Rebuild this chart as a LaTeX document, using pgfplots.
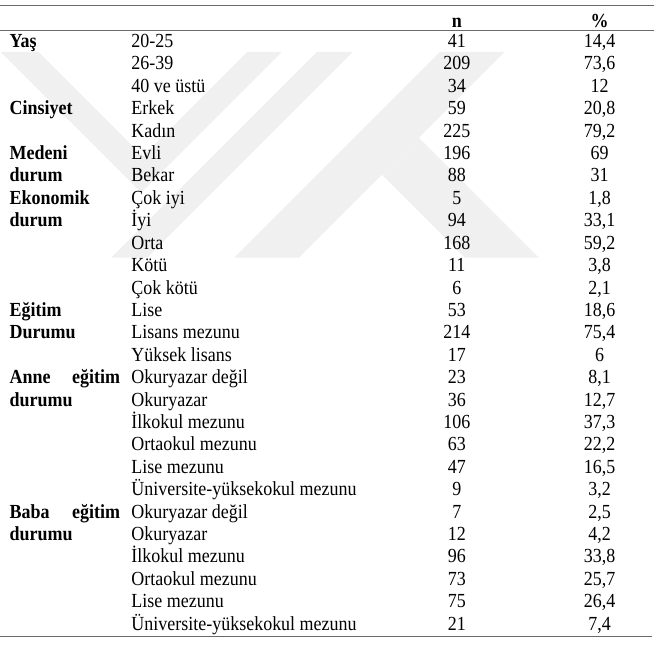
\documentclass[border=0pt]{standalone}
\usepackage{fontspec}
\setmainfont{Liberation Serif}[FakeStretch=0.9]
\usepackage{pgfplots}
\usepackage{pgfplotstable}
\pgfplotsset{compat=1.18}
\definecolor{wmgrey}{HTML}{F0F0F0}
\definecolor{rulegrey}{HTML}{6A6A6A}

% r = row index, cat = category, n = count, p = percent
\pgfplotstableread{
r cat n p
0 20-25 41 {14,4}
1 26-39 209 {73,6}
2 {40 ve üstü} 34 12
3 Erkek 59 {20,8}
4 Kadın 225 {79,2}
5 Evli 196 69
6 Bekar 88 31
7 {Çok iyi} 5 {1,8}
8 İyi 94 {33,1}
9 Orta 168 {59,2}
10 Kötü 11 {3,8}
11 {Çok kötü} 6 {2,1}
12 Lise 53 {18,6}
13 {Lisans mezunu} 214 {75,4}
14 {Yüksek lisans} 17 6
15 {Okuryazar değil} 23 {8,1}
16 Okuryazar 36 {12,7}
17 {İlkokul mezunu} 106 {37,3}
18 {Ortaokul mezunu} 63 {22,2}
19 {Lise mezunu} 47 {16,5}
20 {Üniversite-yüksekokul mezunu} 9 {3,2}
21 {Okuryazar değil} 7 {2,5}
22 Okuryazar 12 {4,2}
23 {İlkokul mezunu} 96 {33,8}
24 {Ortaokul mezunu} 73 {25,7}
25 {Lise mezunu} 75 {26,4}
26 {Üniversite-yüksekokul mezunu} 21 {7,4}
}\tbl

\newcommand{\rowy}[1]{47.5+22.45*#1}

\begin{document}
\begin{tikzpicture}
\begin{axis}[
  width=654bp, height=645bp, scale only axis,
  xmin=0, xmax=654, ymin=0, ymax=645, y dir=reverse,
  hide axis, clip=false,
  every node near coord/.append style={inner sep=0pt, font=\fontsize{20bp}{24bp}\selectfont, text=black},
]
% watermark
\fill[wmgrey] (axis cs:0,52) -- (axis cs:38,52) -- (axis cs:142.5,156.5) -- (axis cs:247,52)
  -- (axis cs:282,52) -- (axis cs:141,193) -- (axis cs:0,52) -- cycle;
\fill[wmgrey] (axis cs:317,52) -- (axis cs:353,52) -- (axis cs:147,258) -- (axis cs:111,258) -- cycle;
\fill[wmgrey] (axis cs:440,52) -- (axis cs:505,52) -- (axis cs:299,258) -- (axis cs:234,258) -- cycle;
\fill[wmgrey] (axis cs:419,138) -- (axis cs:539,258) -- (axis cs:465,258) -- (axis cs:382,175) -- cycle;

% rules
\draw[rulegrey, line width=1bp] (axis cs:0,6) -- (axis cs:654,6);
\draw[rulegrey, line width=1bp] (axis cs:0,30.5) -- (axis cs:654,30.5);
\draw[rulegrey, line width=1bp] (axis cs:0,637) -- (axis cs:652,637);

% header
\node[anchor=base, inner sep=0pt, font=\fontsize{20bp}{24bp}\selectfont\bfseries] at (axis cs:457,27.5) {n};
\node[anchor=base, inner sep=0pt, font=\fontsize{20bp}{24bp}\selectfont\bfseries] at (axis cs:600,27.5) {\%};

% categories
\addplot[draw=none, mark=none, nodes near coords, point meta=explicit symbolic,
  every node near coord/.append style={anchor=base west}]
  table[x expr=131, y expr={\rowy{\thisrow{r}}}, meta=cat] {\tbl};
% n
\addplot[draw=none, mark=none, nodes near coords, point meta=explicit symbolic,
  every node near coord/.append style={anchor=base}]
  table[x expr=457, y expr={\rowy{\thisrow{r}}}, meta=n] {\tbl};
% percent
\addplot[draw=none, mark=none, nodes near coords, point meta=explicit symbolic,
  every node near coord/.append style={anchor=base}]
  table[x expr=600, y expr={\rowy{\thisrow{r}}}, meta=p] {\tbl};

% group labels
\begin{scope}[every node/.style={inner sep=0pt, font=\fontsize{20bp}{24bp}\selectfont\bfseries}]
\node[anchor=base west] at (axis cs:9,{\rowy{0}}) {Yaş};
\node[anchor=base west] at (axis cs:9,{\rowy{3}}) {Cinsiyet};
\node[anchor=base west] at (axis cs:9,{\rowy{5}}) {Medeni};
\node[anchor=base west] at (axis cs:9,{\rowy{6}}) {durum};
\node[anchor=base west] at (axis cs:9,{\rowy{7}}) {Ekonomik};
\node[anchor=base west] at (axis cs:9,{\rowy{8}}) {durum};
\node[anchor=base west] at (axis cs:9,{\rowy{12}}) {Eğitim};
\node[anchor=base west] at (axis cs:9,{\rowy{13}}) {Durumu};
\node[anchor=base west] at (axis cs:9,{\rowy{15}}) {Anne};
\node[anchor=base east] at (axis cs:120,{\rowy{15}}) {eğitim};
\node[anchor=base west] at (axis cs:9,{\rowy{16}}) {durumu};
\node[anchor=base west] at (axis cs:9,{\rowy{21}}) {Baba};
\node[anchor=base east] at (axis cs:120,{\rowy{21}}) {eğitim};
\node[anchor=base west] at (axis cs:9,{\rowy{22}}) {durumu};
\end{scope}
\path (axis cs:0,0) (axis cs:654,645);
\end{axis}
\end{tikzpicture}
\end{document}
